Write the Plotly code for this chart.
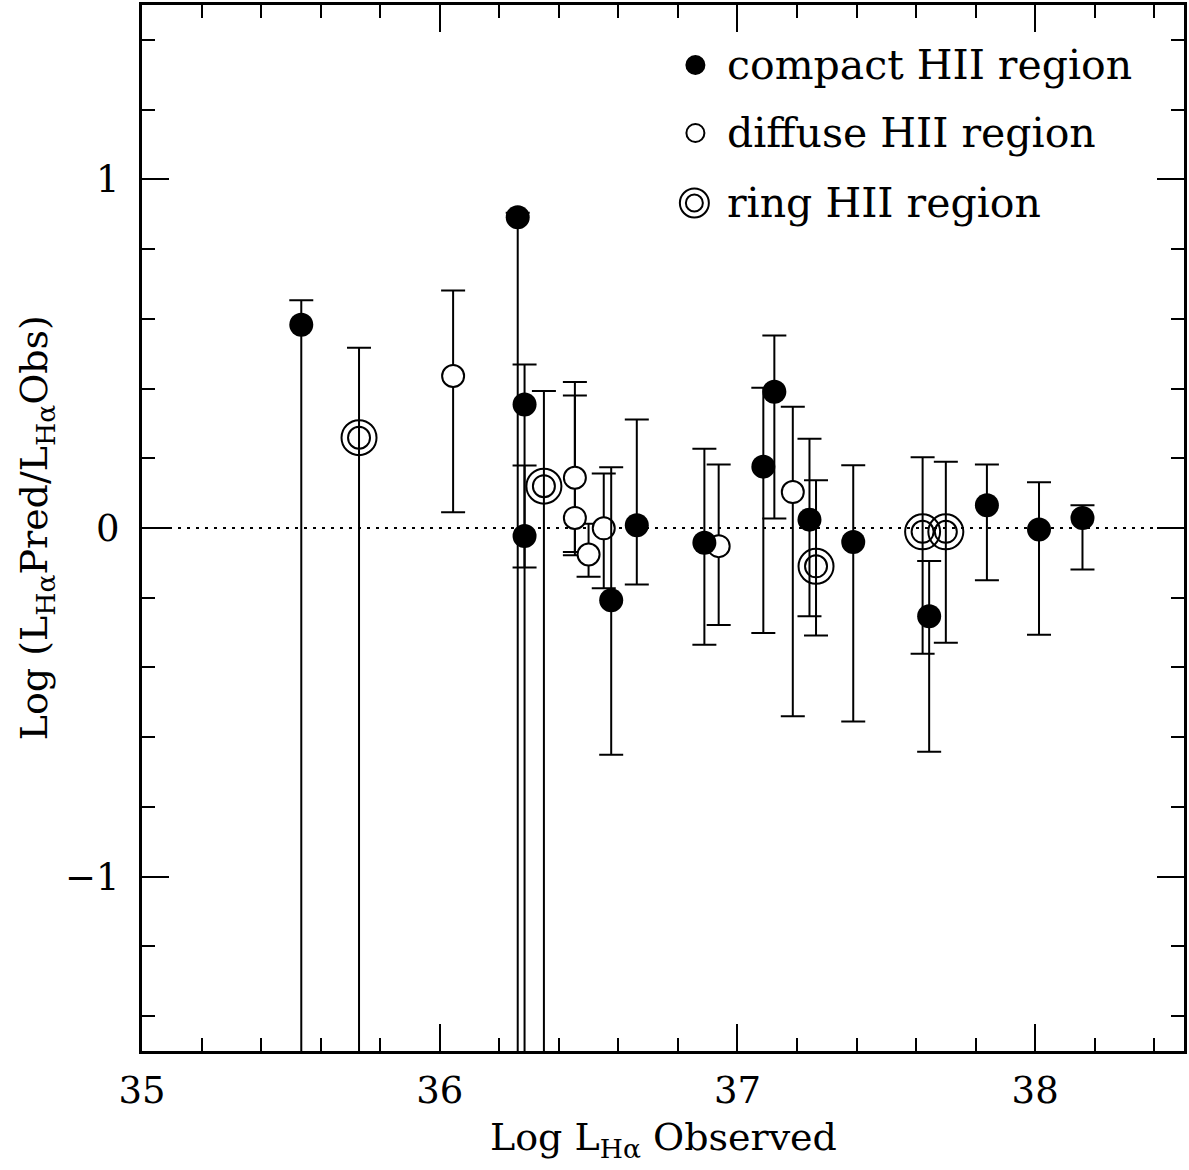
import numpy as np
import plotly.graph_objects as go

# ---------------- data ----------------
# lower bounds of -1.6 mean the error bar runs off the bottom of the plot
compact_x = [35.535, 36.262, 36.285, 36.285, 36.576, 36.662, 36.889, 37.087,
             37.124, 37.242, 37.389, 37.644, 37.838, 38.013, 38.159]
compact_y = [0.583, 0.891, 0.354, -0.023, -0.207, 0.008, -0.042, 0.176,
             0.391, 0.024, -0.040, -0.253, 0.065, -0.004, 0.029]
compact_hi = [0.653, 0.904, 0.469, 0.179, 0.174, 0.311, 0.227, 0.402,
              0.552, 0.256, 0.180, -0.095, 0.182, 0.131, 0.065]
compact_lo = [-1.6, -1.6, -1.6, -0.113, -0.650, -0.162, -0.335, -0.301,
              0.027, -0.253, -0.555, -0.642, -0.150, -0.306, -0.119]

diffuse_x = [36.045, 36.454, 36.454, 36.500, 36.551, 36.937, 37.186]
diffuse_y = [0.436, 0.144, 0.029, -0.076, -0.001, -0.052, 0.103]
diffuse_hi = [0.681, 0.419, 0.380, 0.012, 0.156, 0.182, 0.348]
diffuse_lo = [0.045, -0.078, -0.069, -0.140, -0.173, -0.278, -0.540]

ring_x = [35.729, 36.350, 37.264, 37.622, 37.700]
ring_y = [0.259, 0.120, -0.110, -0.011, -0.011]
ring_hi = [0.517, 0.393, 0.137, 0.203, 0.190]
ring_lo = [-1.6, -1.6, -0.308, -0.361, -0.329]

legend_labels = ["compact HII region", "diffuse HII region", "ring HII region"]
x_ticks = [35, 36, 37, 38]
y_ticks = [-1, 0, 1]

FONT = "DejaVu Serif"


def errs(y, hi, lo):
    y = np.array(y); hi = np.array(hi); lo = np.array(lo)
    return hi - y, y - lo


def ebar(y, hi, lo):
    p, m = errs(y, hi, lo)
    return dict(type="data", symmetric=False, array=p, arrayminus=m,
                color="black", thickness=2, width=12)


fig = go.Figure()

# ring regions (error bars + outer ring + inner ring)
fig.add_trace(go.Scatter(
    x=ring_x, y=ring_y, mode="markers", name=legend_labels[2],
    error_y=ebar(ring_y, ring_hi, ring_lo),
    marker=dict(symbol="circle-open", size=35, color="black",
                line=dict(width=2, color="black")),
    showlegend=False))
fig.add_trace(go.Scatter(
    x=ring_x, y=ring_y, mode="markers", name=legend_labels[2] + " (inner)",
    marker=dict(symbol="circle-open", size=22, color="black",
                line=dict(width=2, color="black")),
    showlegend=False))

# diffuse regions
fig.add_trace(go.Scatter(
    x=diffuse_x, y=diffuse_y, mode="markers", name=legend_labels[1],
    error_y=ebar(diffuse_y, diffuse_hi, diffuse_lo),
    marker=dict(symbol="circle", size=22, color="white",
                line=dict(width=2, color="black")),
    showlegend=False))

# compact regions
fig.add_trace(go.Scatter(
    x=compact_x, y=compact_y, mode="markers", name=legend_labels[0],
    error_y=ebar(compact_y, compact_hi, compact_lo),
    marker=dict(symbol="circle", size=24, color="black",
                line=dict(width=0)),
    showlegend=False))

shapes = [
    # dotted zero line
    dict(type="line", xref="x", yref="y", x0=35, x1=38.5, y0=0, y1=0,
         line=dict(color="black", width=2, dash="3px,6px"), layer="below"),
]

# hand-made legend (paper coords, pixel-sized symbols)
lx = 0.5311
ly = [0.9426, 0.8776, 0.8107]


def circ(xa, ya, d, fill, lw):
    r = d / 2
    return dict(type="circle", xref="paper", yref="paper",
                xsizemode="pixel", ysizemode="pixel",
                xanchor=xa, yanchor=ya, x0=-r, x1=r, y0=-r, y1=r,
                fillcolor=fill, line=dict(color="black", width=lw))


shapes.append(circ(lx, ly[0], 20, "black", 0))
shapes.append(circ(lx, ly[1], 18, "white", 2))
shapes.append(circ(lx - 0.001, ly[2], 29, "rgba(0,0,0,0)", 2))
shapes.append(circ(lx - 0.001, ly[2], 17, "rgba(0,0,0,0)", 2))

annotations = []
for lab, yy in zip(legend_labels, ly):
    annotations.append(dict(text=lab, xref="paper", yref="paper", x=0.5598, y=yy,
                            xanchor="left", yanchor="middle", showarrow=False,
                            font=dict(family=FONT, size=41, color="black")))

# axis titles
annotations.append(dict(text="Log L<sub>Hα</sub> Observed", xref="paper", yref="paper",
                        x=0.5, y=-0.0845, xanchor="center", yanchor="middle",
                        showarrow=False, font=dict(family=FONT, size=38, color="black")))
annotations.append(dict(text="Log (L<sub>Hα</sub>Pred/L<sub>Hα</sub>Obs)",
                        xref="paper", yref="paper", x=-0.1014, y=0.5,
                        xanchor="center", yanchor="middle", textangle=-90,
                        showarrow=False, font=dict(family=FONT, size=38, color="black")))

axis_common = dict(showline=True, linewidth=3, linecolor="black", mirror="ticks",
                   ticks="inside", tickwidth=2, tickcolor="black",
                   showgrid=False, zeroline=False,
                   tickfont=dict(family=FONT, size=37, color="black"))

fig.update_layout(
    width=1189, height=1170,
    margin=dict(l=142, r=2, t=5, b=119),
    paper_bgcolor="white", plot_bgcolor="white",
    showlegend=False,
    shapes=shapes, annotations=annotations,
    xaxis=dict(range=[35, 38.5], tickvals=x_ticks, ticklen=27,
               ticklabelstandoff=5,
               minor=dict(dtick=0.2, tick0=35, ticklen=13, tickwidth=2,
                          ticks="inside", tickcolor="black"),
               **axis_common),
    yaxis=dict(range=[-1.5, 1.5], tickvals=y_ticks, ticklen=27,
               ticklabelstandoff=12,
               minor=dict(dtick=0.2, tick0=0, ticklen=13, tickwidth=2,
                          ticks="inside", tickcolor="black"),
               **axis_common),
)

fig.write_html("out.html")
